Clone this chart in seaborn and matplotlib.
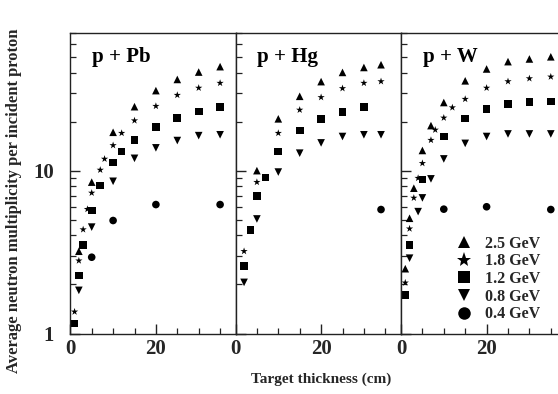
import matplotlib
matplotlib.use("Agg")
import matplotlib.pyplot as plt
from matplotlib.lines import Line2D
from matplotlib.ticker import FixedLocator, NullFormatter, LogLocator
import seaborn as sns
import pandas as pd

# ---------------- data ----------------
energies = ["2.5 GeV", "1.8 GeV", "1.2 GeV", "0.8 GeV", "0.4 GeV"]
marker_map = {"2.5 GeV": "^", "1.8 GeV": "*", "1.2 GeV": "s", "0.8 GeV": "v", "0.4 GeV": "o"}

# p + Pb
pb_x_25 = [2, 5, 10, 15, 20, 25, 30, 35]
pb_y_25 = [3.2, 8.5, 17.2, 24.7, 31.0, 36.3, 40.3, 43.5]
pb_x_18 = [1, 2, 3, 4, 5, 7, 8, 10, 12, 15, 20, 25, 30, 35]
pb_y_18 = [1.36, 2.8, 4.35, 5.8, 7.3, 10.1, 11.8, 14.3, 17.0, 20.3, 24.9, 29.1, 32.2, 34.5]
pb_x_12 = [1, 2, 3, 5, 7, 10, 12, 15, 20, 25, 30, 35]
pb_y_12 = [1.15, 2.27, 3.5, 5.7, 8.1, 11.2, 13.1, 15.4, 18.6, 21.1, 23.1, 24.5]
pb_x_08 = [2, 5, 10, 15, 20, 25, 30, 35]
pb_y_08 = [1.84, 4.5, 8.6, 11.9, 13.8, 15.3, 16.4, 16.6]
pb_x_04 = [5, 10, 20, 35]
pb_y_04 = [2.94, 4.94, 6.19, 6.19]

# p + Hg
hg_x_25 = [5, 10, 15, 20, 25, 30, 34]
hg_y_25 = [10.0, 20.8, 28.6, 35.2, 40.1, 43.0, 44.7]
hg_x_18 = [2, 5, 10, 15, 20, 25, 30, 34]
hg_y_18 = [3.2, 8.5, 17.0, 23.6, 28.2, 32.0, 34.5, 35.3]
hg_x_12 = [2, 3.5, 5, 7, 10, 15, 20, 25, 30]
hg_y_12 = [2.6, 4.33, 7.0, 9.1, 13.1, 17.6, 20.8, 23.0, 24.5]
hg_x_08 = [2, 5, 10, 15, 20, 25, 30, 34]
hg_y_08 = [2.06, 5.05, 9.8, 12.8, 14.8, 16.2, 16.6, 16.6]
hg_x_04 = [34]
hg_y_04 = [5.77]

# p + W
w_x_25 = [1, 2, 3, 5, 7, 10, 15, 20, 25, 30, 35]
w_y_25 = [2.5, 5.1, 7.8, 13.3, 18.9, 26.2, 35.6, 42.1, 46.7, 48.5, 50.0]
w_x_18 = [1, 2, 3, 4, 5, 7, 8, 10, 12, 15, 20, 25, 30, 35]
w_y_18 = [2.05, 4.4, 6.8, 9.0, 11.1, 15.4, 17.8, 21.1, 24.4, 27.5, 32.2, 35.3, 36.8, 37.7]
w_x_12 = [1, 2, 5, 10, 15, 20, 25, 30, 35]
w_y_12 = [1.73, 3.5, 8.8, 16.2, 20.9, 23.9, 25.6, 26.5, 26.6]
w_x_08 = [2, 4, 5, 7, 10, 15, 20, 25, 30, 35]
w_y_08 = [2.9, 5.6, 6.8, 8.9, 11.8, 14.7, 16.2, 16.8, 16.8, 16.8]
w_x_04 = [10, 20, 35]
w_y_04 = [5.8, 6.0, 5.77]

panel_titles = ["p + Pb", "p + Hg", "p + W"]
x_ticks_major = [0, 20]
x_ticks_minor = [5, 10, 15, 25, 30, 35]
y_tick_labels = {1: "1", 10: "10"}


def make_df(series):
    rows = []
    for e, (xs, ys) in zip(energies, series):
        for x, y in zip(xs, ys):
            rows.append({"thickness": x, "mult": y, "energy": e})
    return pd.DataFrame(rows)


panels = [
    make_df([(pb_x_25, pb_y_25), (pb_x_18, pb_y_18), (pb_x_12, pb_y_12), (pb_x_08, pb_y_08), (pb_x_04, pb_y_04)]),
    make_df([(hg_x_25, hg_y_25), (hg_x_18, hg_y_18), (hg_x_12, hg_y_12), (hg_x_08, hg_y_08), (hg_x_04, hg_y_04)]),
    make_df([(w_x_25, w_y_25), (w_x_18, w_y_18), (w_x_12, w_y_12), (w_x_08, w_y_08), (w_x_04, w_y_04)]),
]

# ---------------- style ----------------
sns.set_theme(style="ticks")
plt.rcParams["font.family"] = ["Liberation Serif", "DejaVu Serif"]
plt.rcParams["font.weight"] = "bold"

W, H = 558, 394
fig = plt.figure(figsize=(W / 100, H / 100), dpi=100)

top = 33
bottom = 333.5
lefts = [70.3, 235.5, 401.0]
pw = 165.5
xmax = pw / 4.28

axes = []
for i, (df, title) in enumerate(zip(panels, panel_titles)):
    ax = fig.add_axes([lefts[i] / W, 1 - bottom / H, pw / W, (bottom - top) / H])
    axes.append(ax)
    sns.scatterplot(data=df, x="thickness", y="mult", style="energy", style_order=energies,
                    markers=marker_map, color="black", edgecolor="black", linewidth=0,
                    s=30, legend=False, ax=ax)
    ax.set_yscale("log")
    ax.set_ylim(1, 70)
    ax.set_xlim(0, xmax)
    ax.set_xlabel("")
    ax.set_ylabel("")
    for sp in ax.spines.values():
        sp.set_color("#222222")
        sp.set_linewidth(1.0)
    ax.xaxis.set_major_locator(FixedLocator(x_ticks_major))
    ax.xaxis.set_minor_locator(FixedLocator(x_ticks_minor))
    ax.set_xticklabels([str(t) for t in x_ticks_major])
    ax.yaxis.set_major_locator(FixedLocator(list(y_tick_labels.keys())))
    ax.yaxis.set_minor_locator(LogLocator(base=10, subs=range(2, 10)))
    ax.yaxis.set_minor_formatter(NullFormatter())
    if i == 0:
        ax.set_yticklabels(list(y_tick_labels.values()))
    else:
        ax.set_yticklabels([])
    ax.tick_params(axis="both", which="major", direction="in", length=7, width=1.0,
                   color="#222222", labelsize=15)
    ax.tick_params(axis="both", which="minor", direction="in", length=4, width=0.9,
                   color="#222222")
    ax.tick_params(axis="y", which="major", pad=12)
    ax.tick_params(axis="x", which="major", pad=4)
    for lab in ax.get_xticklabels() + ax.get_yticklabels():
        lab.set_fontweight("bold")
    ax.tick_params(top=False, right=False, which="both")
    ax.text(0.13, 0.955, title, transform=ax.transAxes, ha="left", va="top",
            fontsize=15, fontweight="bold", color="black")

# legend in W panel
handles = [Line2D([], [], linestyle="none", marker=marker_map[e], color="black",
                  markersize=(11 if marker_map[e] == "*" else 9), markeredgewidth=0)
           for e in energies]
fig.legend(handles, energies, loc="center left", bbox_to_anchor=(442 / W, 1 - 279 / H),
           frameon=False, handlelength=1.0, handletextpad=0.8,
           labelspacing=0.1, borderpad=0.4, prop={"weight": "bold", "size": 11.5})

fig.text(14 / W, 1 - 201 / H, "Average neutron multiplicity per incident proton",
         rotation=90, ha="center", va="center", fontsize=12, fontweight="bold")
fig.text(321 / W, 1 - 379 / H, "Target thickness (cm)", ha="center", va="center",
         fontsize=11, fontweight="bold")

fig.savefig("out.png", dpi=100)
